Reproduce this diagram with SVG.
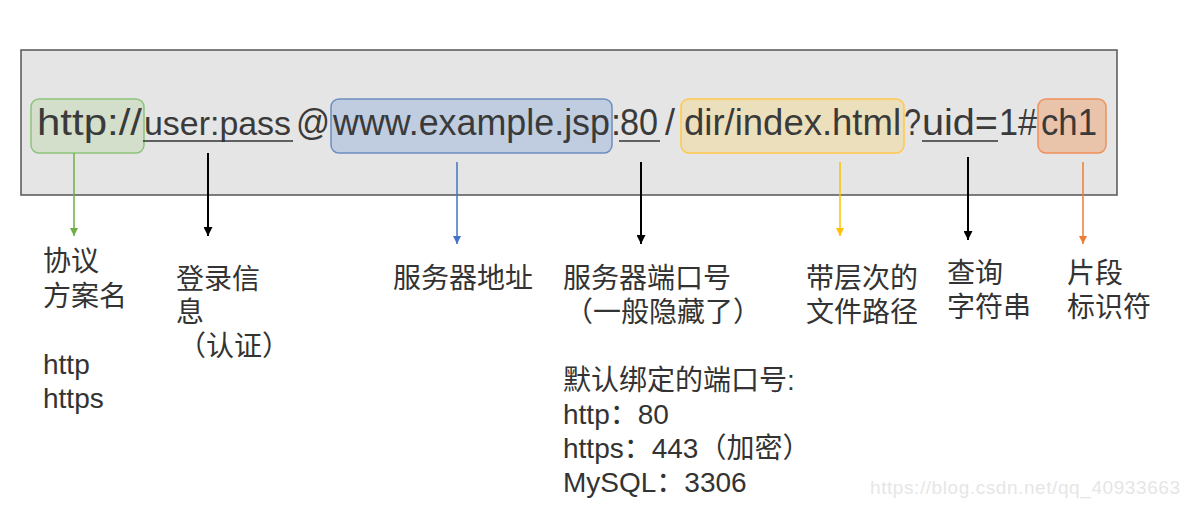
<svg xmlns="http://www.w3.org/2000/svg" width="1201" height="520" viewBox="0 0 1201 520">
<style>
.url{font-family:"Liberation Sans","Noto Sans",sans-serif;font-size:36px;fill:#3a3a3a}
.lbl{font-family:"Liberation Sans","Noto Sans CJK SC",sans-serif;font-size:28px;fill:#333}
.ul{stroke:#333;stroke-width:1.5}
.wm{font-family:"Liberation Sans",sans-serif;font-size:19px;fill:#e6e6e6}
</style>
<defs>
<marker id="aG" viewBox="0 0 10 10" refX="10" refY="5" markerWidth="8" markerHeight="8" markerUnits="userSpaceOnUse" orient="auto"><path d="M0,0L10,5L0,10z" fill="#70ad47"/></marker>
<marker id="aK" viewBox="0 0 10 10" refX="10" refY="5" markerWidth="9" markerHeight="9" markerUnits="userSpaceOnUse" orient="auto"><path d="M0,0L10,5L0,10z" fill="#000"/></marker>
<marker id="aB" viewBox="0 0 10 10" refX="10" refY="5" markerWidth="8" markerHeight="8" markerUnits="userSpaceOnUse" orient="auto"><path d="M0,0L10,5L0,10z" fill="#4472c4"/></marker>
<marker id="aY" viewBox="0 0 10 10" refX="10" refY="5" markerWidth="8" markerHeight="8" markerUnits="userSpaceOnUse" orient="auto"><path d="M0,0L10,5L0,10z" fill="#ffc000"/></marker>
<marker id="aO" viewBox="0 0 10 10" refX="10" refY="5" markerWidth="8" markerHeight="8" markerUnits="userSpaceOnUse" orient="auto"><path d="M0,0L10,5L0,10z" fill="#ed7d31"/></marker>
</defs>
<rect width="1201" height="520" fill="#fff"/>
<g id="url-bar">
<rect x="21" y="50" width="1096" height="145" fill="#e5e5e5" stroke="#555" stroke-width="1.5"/>
</g>
<g id="scheme">
<rect x="31" y="99" width="113" height="54" rx="8" fill="#d3dfcb" stroke="#8cc47a" stroke-width="1.5"/>
<text class="url" x="37" y="135" textLength="105" lengthAdjust="spacingAndGlyphs">http://</text>
</g>
<g id="userinfo">
<text class="url" x="144" y="135" style="font-size:34px" textLength="147" lengthAdjust="spacingAndGlyphs">user:pass</text>
<line class="ul" x1="143" y1="141" x2="293" y2="141"/>
</g>
<g id="at"><text class="url" x="296" y="135" textLength="34" lengthAdjust="spacingAndGlyphs">@</text></g>
<g id="host">
<rect x="331" y="99" width="281" height="54" rx="8" fill="#c0cde0" stroke="#6c8ebf" stroke-width="1.5"/>
<text class="url" x="333" y="135" textLength="277" lengthAdjust="spacingAndGlyphs">www.example.jsp</text>
</g>
<g id="port">
<text class="url" x="611" y="135">:</text>
<text class="url" x="620" y="135" textLength="38" lengthAdjust="spacingAndGlyphs">80</text>
<line class="ul" x1="619" y1="141" x2="660" y2="141"/>
<text class="url" x="665" y="135">/</text>
</g>
<g id="path">
<rect x="681" y="99" width="223" height="54" rx="8" fill="#ecdfbc" stroke="#ffc84a" stroke-width="1.5"/>
<text class="url" x="684" y="135" textLength="217" lengthAdjust="spacingAndGlyphs">dir/index.html</text>
</g>
<g id="query">
<text class="url" x="904" y="135" textLength="17" lengthAdjust="spacingAndGlyphs">?</text>
<text class="url" x="922" y="135" textLength="76" lengthAdjust="spacingAndGlyphs">uid=</text>
<line class="ul" x1="922" y1="141" x2="998" y2="141"/>
<text class="url" x="999" y="135" textLength="38" lengthAdjust="spacingAndGlyphs">1#</text>
</g>
<g id="fragment">
<rect x="1038" y="99" width="68" height="54" rx="8" fill="#eac3ab" stroke="#f0905a" stroke-width="1.5"/>
<text class="url" x="1041" y="135" textLength="56" lengthAdjust="spacingAndGlyphs">ch1</text>
</g>
<g id="connectors">
<line x1="74" y1="153" x2="74" y2="236" stroke="#70ad47" stroke-width="1.5" marker-end="url(#aG)"/>
<line x1="208" y1="153" x2="208" y2="236" stroke="#000" stroke-width="2" marker-end="url(#aK)"/>
<line x1="457" y1="162" x2="457" y2="244" stroke="#4472c4" stroke-width="1.5" marker-end="url(#aB)"/>
<line x1="641" y1="162" x2="641" y2="244" stroke="#000" stroke-width="2" marker-end="url(#aK)"/>
<line x1="840" y1="162" x2="840" y2="236" stroke="#ffc000" stroke-width="1.5" marker-end="url(#aY)"/>
<line x1="968" y1="157" x2="968" y2="240" stroke="#000" stroke-width="2" marker-end="url(#aK)"/>
<line x1="1083" y1="162" x2="1083" y2="244" stroke="#ed7d31" stroke-width="1.5" marker-end="url(#aO)"/>
</g>
<g id="label-scheme">
<text class="lbl" x="43" y="271">协议</text>
<text class="lbl" x="43" y="306">方案名</text>
<text class="lbl" x="43" y="374">http</text>
<text class="lbl" x="43" y="408">https</text>
</g>
<g id="label-userinfo">
<text class="lbl" x="176" y="289">登录信</text>
<text class="lbl" x="176" y="322">息</text>
<text class="lbl" x="178" y="356">（认证）</text>
</g>
<g id="label-host">
<text class="lbl" x="393" y="288">服务器地址</text>
</g>
<g id="label-port">
<text class="lbl" x="563" y="288">服务器端口号</text>
<text class="lbl" x="565" y="322">（一般隐藏了）</text>
<text class="lbl" x="563" y="390">默认绑定的端口号:</text>
<text class="lbl" x="563" y="424">http：80</text>
<text class="lbl" x="563" y="458">https：443（加密）</text>
<text class="lbl" x="563" y="492">MySQL：3306</text>
</g>
<g id="label-path">
<text class="lbl" x="806" y="288">带层次的</text>
<text class="lbl" x="806" y="322">文件路径</text>
</g>
<g id="label-query">
<text class="lbl" x="947" y="283">查询</text>
<text class="lbl" x="947" y="317">字符串</text>
</g>
<g id="label-fragment">
<text class="lbl" x="1067" y="283">片段</text>
<text class="lbl" x="1067" y="317">标识符</text>
</g>
<text class="wm" x="870" y="494" textLength="310">https://blog.csdn.net/qq_40933663</text>
</svg>
